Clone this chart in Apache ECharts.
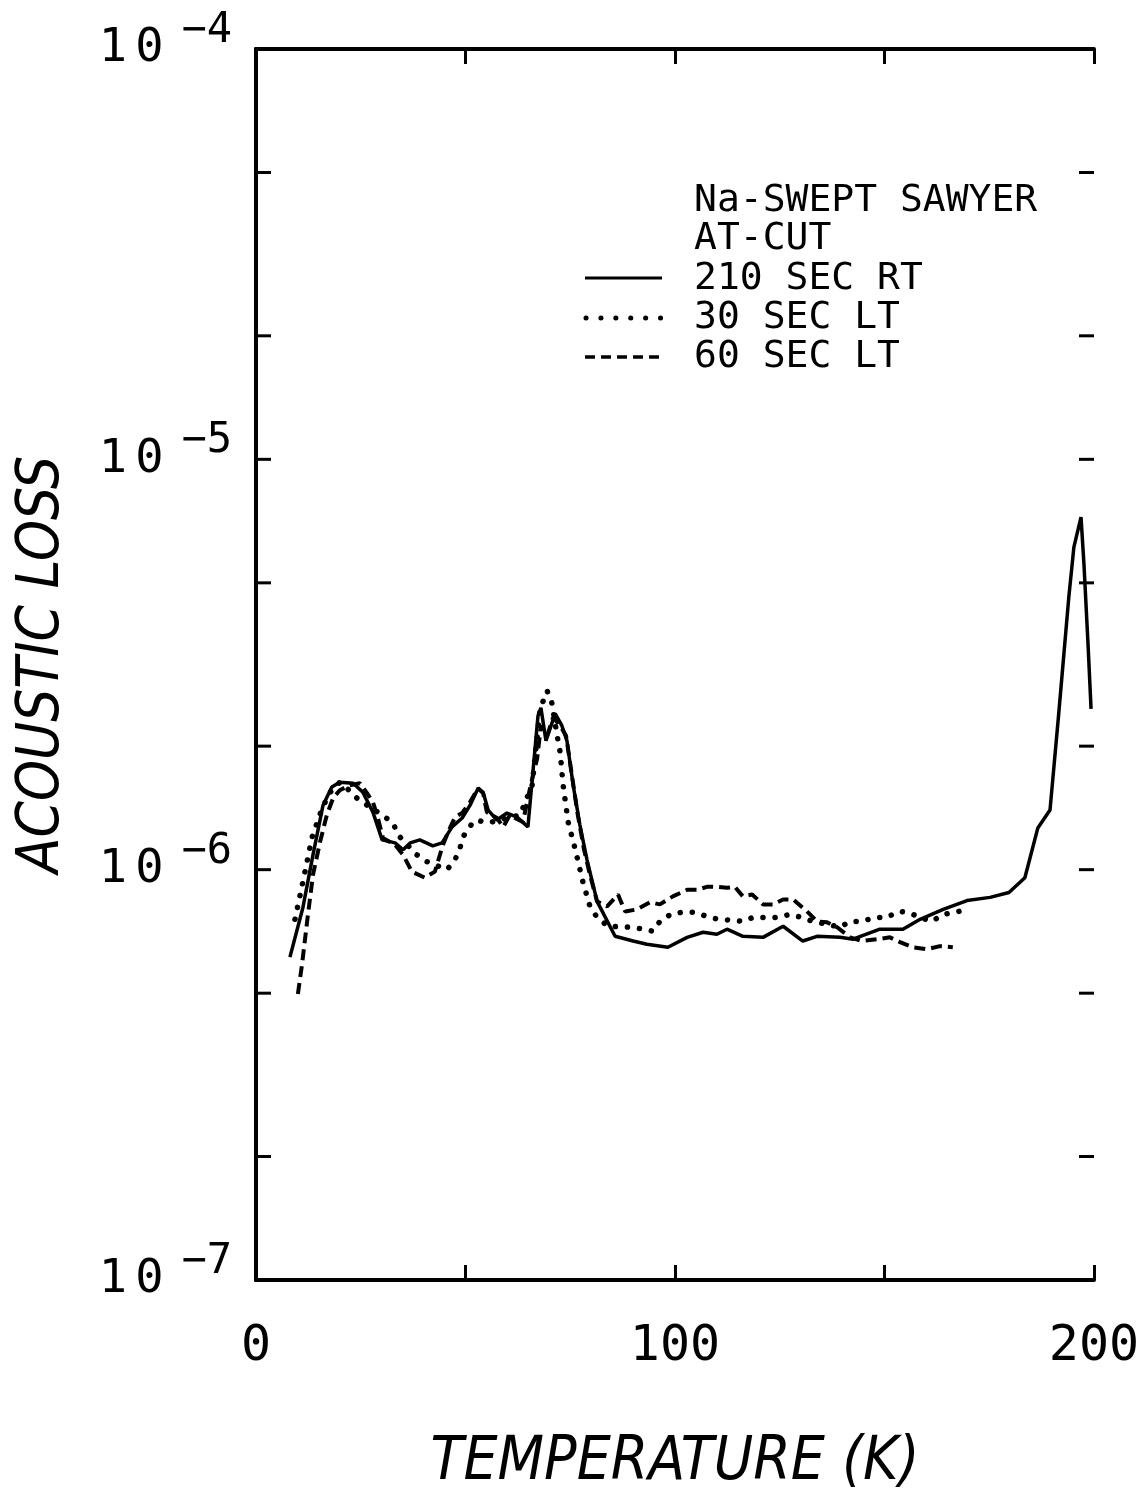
<!DOCTYPE html>
<html>
<head>
<meta charset="utf-8">
<script src="https://cdn.jsdelivr.net/npm/echarts@6/dist/echarts.min.js"></script>
<style>
html,body{margin:0;padding:0;background:#fff;}
#chart{width:1143px;height:1498px;}
</style>
</head>
<body>
<div id="chart"></div>
<script>
// ---- Data (temperature in K, acoustic loss) ----
const temp210 = [8.1,11.2,13.6,16.0,18.1,20.0,23.2,25.5,27.9,30.1,33.2,35.1,36.8,39.1,42.2,44.4,46.8,49.2,51.1,53.0,54.2,55.4,57.5,59.9,62.3,64.9,67.3,68.0,69.2,71.4,73.0,74.2,75.7,77.3,79.0,81.4,85.7,90.0,93.3,98.3,102.9,106.7,110.0,112.4,116.2,121.0,125.8,130.5,133.9,139.4,142.5,148.9,154.4,158.5,164.0,169.7,175.2,179.7,183.5,186.6,189.5,191.6,194.0,195.2,196.9,197.6,198.6,199.3];
const loss210 = [0.612e-6,0.809e-6,1.087e-6,1.436e-6,1.59e-6,1.633e-6,1.624e-6,1.544e-6,1.381e-6,1.182e-6,1.162e-6,1.118e-6,1.162e-6,1.182e-6,1.143e-6,1.162e-6,1.271e-6,1.336e-6,1.436e-6,1.579e-6,1.544e-6,1.397e-6,1.321e-6,1.374e-6,1.343e-6,1.271e-6,2.371e-6,2.48e-6,2.063e-6,2.40e-6,2.243e-6,2.063e-6,1.606e-6,1.285e-6,1.057e-6,0.837e-6,0.688e-6,0.670e-6,0.658e-6,0.647e-6,0.684e-6,0.704e-6,0.696e-6,0.716e-6,0.688e-6,0.684e-6,0.728e-6,0.670e-6,0.688e-6,0.684e-6,0.677e-6,0.716e-6,0.716e-6,0.757e-6,0.800e-6,0.841e-6,0.856e-6,0.880e-6,0.956e-6,1.264e-6,1.397e-6,2.412e-6,4.63e-6,6.11e-6,7.23e-6,5.56e-6,3.50e-6,2.466e-6];

const temp30 = [9.3,11.2,13.4,15.8,17.7,20.0,21.7,24.1,26.5,30.1,32.7,33.9,38.4,40.8,45.6,47.5,48.7,49.4,51.8,52.7,55.4,59.0,63.0,65.9,67.8,69.5,70.6,71.8,72.6,73.3,74.5,76.1,78.0,79.7,81.4,84.0,89.7,92.4,94.7,96.4,99.3,101.9,104.8,107.6,110.3,113.6,116.2,118.6,121.5,124.6,127.4,130.3,132.9,136.3,139.4,141.8,144.6,147.7,150.6,153.2,155.6,158.5,161.3,164.0,166.8,169.7];
const loss30 = [0.757e-6,0.935e-6,1.202e-6,1.413e-6,1.544e-6,1.633e-6,1.579e-6,1.494e-6,1.436e-6,1.359e-6,1.30e-6,1.215e-6,1.087e-6,1.046e-6,1.0e-6,1.057e-6,1.130e-6,1.202e-6,1.306e-6,1.321e-6,1.30e-6,1.328e-6,1.359e-6,1.606e-6,2.466e-6,2.727e-6,2.55e-6,2.14e-6,1.93e-6,1.606e-6,1.306e-6,1.130e-6,0.935e-6,0.814e-6,0.765e-6,0.728e-6,0.724e-6,0.716e-6,0.708e-6,0.748e-6,0.782e-6,0.787e-6,0.787e-6,0.769e-6,0.757e-6,0.753e-6,0.748e-6,0.765e-6,0.765e-6,0.765e-6,0.778e-6,0.765e-6,0.748e-6,0.736e-6,0.724e-6,0.748e-6,0.748e-6,0.765e-6,0.765e-6,0.791e-6,0.787e-6,0.765e-6,0.748e-6,0.778e-6,0.787e-6,0.800e-6];

const temp60 = [10.0,11.0,12.2,13.6,15.3,16.9,18.4,20.0,22.4,24.8,26.5,27.9,28.9,30.3,33.2,35.1,37.2,40.3,42.7,44.6,46.3,47.5,49.2,51.1,53.0,54.2,55.1,57.5,59.0,60.6,61.8,63.7,65.4,67.1,68.0,69.5,70.9,72.6,74.0,75.4,76.8,78.3,79.7,81.4,83.8,86.4,88.1,90.9,94.0,96.4,99.5,102.9,105.3,107.6,110.0,112.4,114.3,116.2,118.4,121.0,123.4,125.8,128.2,131.5,133.9,136.3,138.7,141.8,144.6,148.2,151.3,153.7,156.8,160.1,163.2,166.3];
const loss60 = [0.498e-6,0.589e-6,0.748e-6,0.972e-6,1.169e-6,1.359e-6,1.494e-6,1.562e-6,1.606e-6,1.624e-6,1.536e-6,1.461e-6,1.359e-6,1.195e-6,1.149e-6,1.087e-6,0.989e-6,0.956e-6,0.989e-6,1.149e-6,1.264e-6,1.343e-6,1.374e-6,1.461e-6,1.579e-6,1.536e-6,1.381e-6,1.336e-6,1.271e-6,1.359e-6,1.336e-6,1.306e-6,1.579e-6,1.866e-6,2.243e-6,2.121e-6,2.35e-6,2.243e-6,2.121e-6,1.698e-6,1.359e-6,1.118e-6,0.972e-6,0.837e-6,0.814e-6,0.870e-6,0.791e-6,0.800e-6,0.833e-6,0.823e-6,0.861e-6,0.893e-6,0.893e-6,0.908e-6,0.908e-6,0.903e-6,0.908e-6,0.861e-6,0.870e-6,0.823e-6,0.823e-6,0.846e-6,0.846e-6,0.791e-6,0.748e-6,0.744e-6,0.724e-6,0.684e-6,0.670e-6,0.677e-6,0.684e-6,0.666e-6,0.647e-6,0.640e-6,0.651e-6,0.647e-6];

// ---- Ticks / labels ----
const xMin = 0, xMax = 200, xTickStep = 50;
const xLabelValues = [0, 100, 200];
const yMin = 1e-7, yMax = 1e-4;
const yTickValues = [2e-7, 5e-7, 1e-6, 2e-6, 5e-6, 1e-5, 2e-5, 5e-5];

const legendTitle = ['Na-SWEPT SAWYER', 'AT-CUT'];
const seriesNames = ['210 SEC RT', '30 SEC LT', '60 SEC LT'];

function zip(xs, ys) { return xs.map((x, i) => [x, ys[i]]); }

const MONO = "'DejaVu Sans Mono', 'Liberation Mono', monospace";
const NARROW = "'Liberation Sans Narrow', 'DejaVu Sans Condensed', sans-serif";

const chart = echarts.init(document.getElementById('chart'), null, {renderer: 'canvas'});

const axisLine = {show: true, lineStyle: {color: '#000', width: 4}};
const tickStyle = {show: true, inside: true, length: 15, lineStyle: {color: '#000', width: 3}};
const TICK_LEN = 15;

const option = {
  animation: false,
  backgroundColor: '#fff',
  grid: {left: 256, right: 49, top: 49, bottom: 210, containLabel: false},
  xAxis: [
    {
      type: 'value', min: xMin, max: xMax, interval: xTickStep, position: 'bottom',
      axisLine: axisLine, axisTick: tickStyle, splitLine: {show: false},
      axisLabel: {
        margin: 42, color: '#000', fontSize: 50, fontFamily: MONO,
        formatter: v => xLabelValues.indexOf(v) >= 0 ? String(v) : ''
      },
      name: 'TEMPERATURE (K)', nameLocation: 'middle', nameGap: 153,
      nameTextStyle: {fontSize: 60, fontStyle: 'italic', fontFamily: NARROW, color: '#000'}
    },
    {
      type: 'value', min: xMin, max: xMax, interval: xTickStep, position: 'top',
      axisLine: axisLine, axisTick: tickStyle, splitLine: {show: false},
      axisLabel: {show: false}
    }
  ],
  yAxis: [
    {
      type: 'log', logBase: 10, min: yMin, max: yMax, position: 'left',
      axisLine: axisLine, axisTick: {show: false}, splitLine: {show: false},
      axisLabel: {
        margin: 24, color: '#000',
        formatter: v => '{a|1}{c|0}{b|\u2212' + Math.round(-Math.log10(v)) + '}',
        rich: {
          a: {fontSize: 47, fontFamily: MONO, color: '#000'},
          c: {fontSize: 47, fontFamily: MONO, color: '#000', padding: [0, 0, 0, 8]},
          b: {fontSize: 42, fontFamily: MONO, color: '#000', padding: [0, 0, 36, 18]}
        }
      },
      name: 'ACOUSTIC LOSS', nameLocation: 'middle', nameRotate: 90, nameGap: 184,
      nameTextStyle: {fontSize: 58, fontStyle: 'italic', fontFamily: NARROW, color: '#000'}
    },
    {
      type: 'log', logBase: 10, min: yMin, max: yMax, position: 'right',
      axisLine: axisLine, axisTick: {show: false}, splitLine: {show: false},
      axisLabel: {show: false}
    }
  ],
  series: [
    {
      name: seriesNames[0], type: 'line', data: zip(temp210, loss210),
      showSymbol: false, symbol: 'none', smooth: false,
      lineStyle: {color: '#000', width: 3.5, type: 'solid'}
    },
    {
      name: seriesNames[1], type: 'line', data: zip(temp30, loss30),
      showSymbol: false, symbol: 'none', smooth: false,
      lineStyle: {color: '#000', width: 5.5, type: [0.1, 12], cap: 'round'}
    },
    {
      name: seriesNames[2], type: 'line', data: zip(temp60, loss60),
      showSymbol: false, symbol: 'none', smooth: false,
      lineStyle: {color: '#000', width: 4, type: [11, 6]}
    },
    {
      // inward y-axis tick marks on the left and right frame (decades and 2, 5 minors)
      type: 'custom', silent: true, clip: false,
      data: yTickValues.map(v => [xMin, v]),
      renderItem: function (params, api) {
        const v = api.value(1);
        const pL = api.coord([xMin, v]);
        const pR = api.coord([xMax, v]);
        return {
          type: 'group',
          children: [
            {type: 'line', shape: {x1: pL[0], y1: pL[1], x2: pL[0] + TICK_LEN, y2: pL[1]}, style: {stroke: '#000', lineWidth: 3}},
            {type: 'line', shape: {x1: pR[0] - TICK_LEN, y1: pR[1], x2: pR[0], y2: pR[1]}, style: {stroke: '#000', lineWidth: 3}}
          ]
        };
      }
    }
  ],
  graphic: [
    {type: 'text', x: 694, y: 201, style: {text: legendTitle[0], fill: '#000', font: '38px ' + MONO, verticalAlign: 'middle'}},
    {type: 'text', x: 694, y: 239, style: {text: legendTitle[1], fill: '#000', font: '38px ' + MONO, verticalAlign: 'middle'}},
    {type: 'text', x: 694, y: 279, style: {text: seriesNames[0], fill: '#000', font: '38px ' + MONO, verticalAlign: 'middle'}},
    {type: 'text', x: 694, y: 318, style: {text: seriesNames[1], fill: '#000', font: '38px ' + MONO, verticalAlign: 'middle'}},
    {type: 'text', x: 694, y: 357, style: {text: seriesNames[2], fill: '#000', font: '38px ' + MONO, verticalAlign: 'middle'}},
    {type: 'line', shape: {x1: 585, y1: 278, x2: 662, y2: 278}, style: {stroke: '#000', lineWidth: 3}},
    {type: 'line', shape: {x1: 586, y1: 318, x2: 662, y2: 318}, style: {stroke: '#000', lineWidth: 5, lineDash: [0.1, 14.8], lineCap: 'round'}},
    {type: 'line', shape: {x1: 585, y1: 357, x2: 662, y2: 357}, style: {stroke: '#000', lineWidth: 3.5, lineDash: [10, 6]}}
  ]
};

chart.setOption(option);
</script>
</body>
</html>
